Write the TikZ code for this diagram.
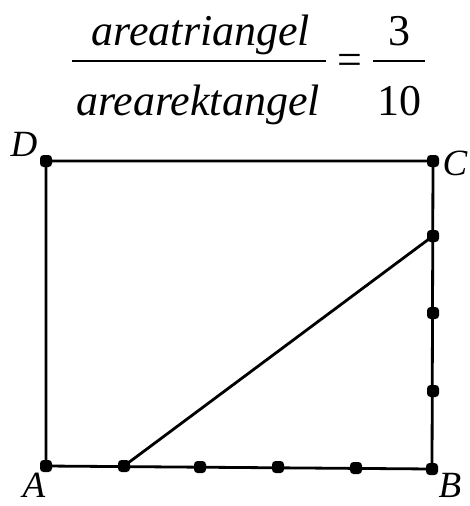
\documentclass[tikz,border=0pt]{standalone}
\usepackage{fontspec}
\setmainfont{Liberation Serif}
\begin{document}
\begin{tikzpicture}[x=1pt,y=-1pt,
  seg/.style={line width=2.8pt,black},
  dot/.style={rectangle,rounded corners=3.5pt,fill=black,inner sep=0pt,minimum size=12pt},
  big/.style={font=\fontsize{44}{50}\selectfont\itshape,inner sep=0pt,anchor=base},
  bignum/.style={font=\fontsize{44}{50}\selectfont,inner sep=0pt,anchor=base},
  lab/.style={font=\fontsize{37}{42}\selectfont\itshape,inner sep=0pt,anchor=base}]
\useasboundingbox (0,0) rectangle (469,506);
% formula
\node[big] (num) at (201,45) {areatriangel};
\node[big] (den) at (198,115) {arearektangel};
\coordinate (b1l) at (72,61); \coordinate (b1r) at (326,61);
\draw[line width=2.8pt] (b1l) -- (b1r);
\node[bignum,anchor=center] (eq) at (350,64) {=};
\node[bignum] (three) at (399,45) {3};
\node[bignum] (ten) at (399,115) {10};
\coordinate (b2l) at (373,61); \coordinate (b2r) at (425,61);
\draw[line width=2.8pt] (b2l) -- (b2r);
% points
\node[dot] (A) at (46,466) {};
\node[dot] (B) at (432,469) {};
\node[dot] (C) at (433,161) {};
\node[dot] (D) at (46,161) {};
\node[dot] (P1) at (124,466) {};
\node[dot] (P2) at (200,467) {};
\node[dot] (P3) at (278,467) {};
\node[dot] (P4) at (356,468) {};
\node[dot] (Q1) at (433,236) {};
\node[dot] (Q2) at (433,313) {};
\node[dot] (Q3) at (433,391) {};
% lines
\draw[seg] (A.center) -- (B.center) -- (C.center) -- (D.center) -- cycle;
\draw[seg] (P1.center) -- (Q1.center);
% labels
\node[lab] (lD) at (24,156) {D};
\node[lab] (lC) at (455,175) {C};
\node[lab] (lA) at (34,497) {A};
\node[lab] (lB) at (450,497) {B};
\end{tikzpicture}
\end{document}
